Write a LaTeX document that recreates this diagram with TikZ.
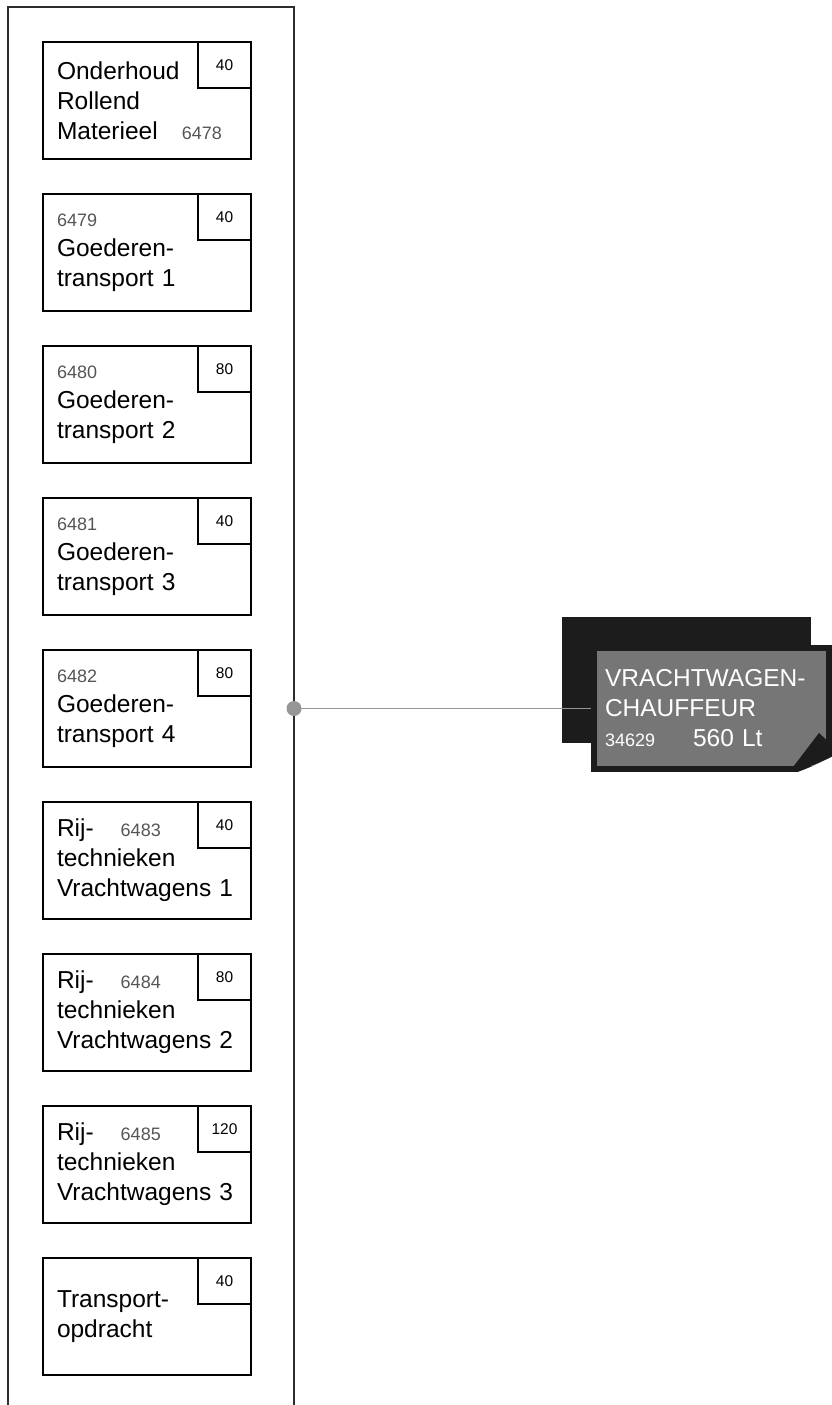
\documentclass[tikz,border=0pt]{standalone}
\usepackage{fontspec}
\setmainfont{Liberation Sans}
\usetikzlibrary{positioning}
\definecolor{numgray}{RGB}{85,85,85}
\definecolor{cardfill}{RGB}{118,118,118}
\definecolor{carddark}{RGB}{28,28,28}
\definecolor{linkgray}{RGB}{150,150,150}
\definecolor{framegray}{RGB}{45,45,45}
\newcommand{\cnr}[1]{{\fontsize{18}{30}\selectfont\color{numgray}#1}}

\begin{document}
\begin{tikzpicture}[x=1pt,y=-1pt,
  font=\fontsize{24.5}{30}\selectfont,
  course/.style={draw=black,line width=1.5pt,minimum width=208pt,minimum height=117pt,
                 text width=180pt,align=left,inner xsep=14pt,inner ysep=0pt},
  hrs/.style={draw=black,line width=1.5pt,minimum width=53pt,minimum height=46pt,
              inner sep=0pt,fill=white,anchor=north east,font=\fontsize{15.5}{18}\selectfont},
  cardback/.style={fill=carddark,minimum width=249pt,minimum height=126pt,inner sep=0pt},
  card/.style={fill=cardfill,draw=carddark,line width=6pt,minimum width=235pt,
               minimum height=121pt,text width=213pt,inner xsep=11pt,inner ysep=0pt,
               align=left,text=white},
  link/.style={linkgray,line width=1pt}
]
\useasboundingbox (0,0) rectangle (832,1405);
% kader links
\draw[framegray,line width=1.5pt] (8,1405) -- (8,7) -- (294,7) -- (294,1405);

\node[course] (m1) at (147,100.5) {Onderhoud\\Rollend\\Materieel\hspace{24pt}\cnr{6478}};
\node[course,below=33.5pt of m1] (m2) {\cnr{6479}\\Goederen-\\transport 1};
\node[course,below=33.5pt of m2] (m3) {\cnr{6480}\\Goederen-\\transport 2};
\node[course,below=33.5pt of m3] (m4) {\cnr{6481}\\Goederen-\\transport 3};
\node[course,below=33.5pt of m4] (m5) {\cnr{6482}\\Goederen-\\transport 4};
\node[course,below=33.5pt of m5] (m6) {Rij-\hspace{27pt}\cnr{6483}\\technieken\\Vrachtwagens 1};
\node[course,below=33.5pt of m6] (m7) {Rij-\hspace{27pt}\cnr{6484}\\technieken\\Vrachtwagens 2};
\node[course,below=33.5pt of m7] (m8) {Rij-\hspace{27pt}\cnr{6485}\\technieken\\Vrachtwagens 3};
\node[course,below=33.5pt of m8] (m9) {Transport-\\opdracht};
\foreach \i/\h in {1/40,2/40,3/80,4/40,5/80,6/40,7/80,8/120,9/40}
  \node[hrs] (h\i) at (m\i.north east) {\h};

% beroep
\coordinate (hub) at (294,708.5);
\node[cardback] (back) at (686.5,680) {};
\draw[link] (hub) -- (back.west |- hub) -- (660,708.5);
\node[card] (card) at (711.5,708.5) {VRACHTWAGEN-\\CHAUFFEUR\\{\fontsize{18}{30}\selectfont 34629}\hspace{38pt}560 Lt};
\fill[white] (789,775) .. controls (808,769) and (822,762) .. (835,755) -- (835,775) -- cycle;
\fill[carddark] (790,771) -- (819,733) -- (834,747) -- (834,755)
  .. controls (822,762) and (808,768) .. (790,771) -- cycle;
\fill[linkgray] (hub) circle (7.5pt);
\end{tikzpicture}
\end{document}
